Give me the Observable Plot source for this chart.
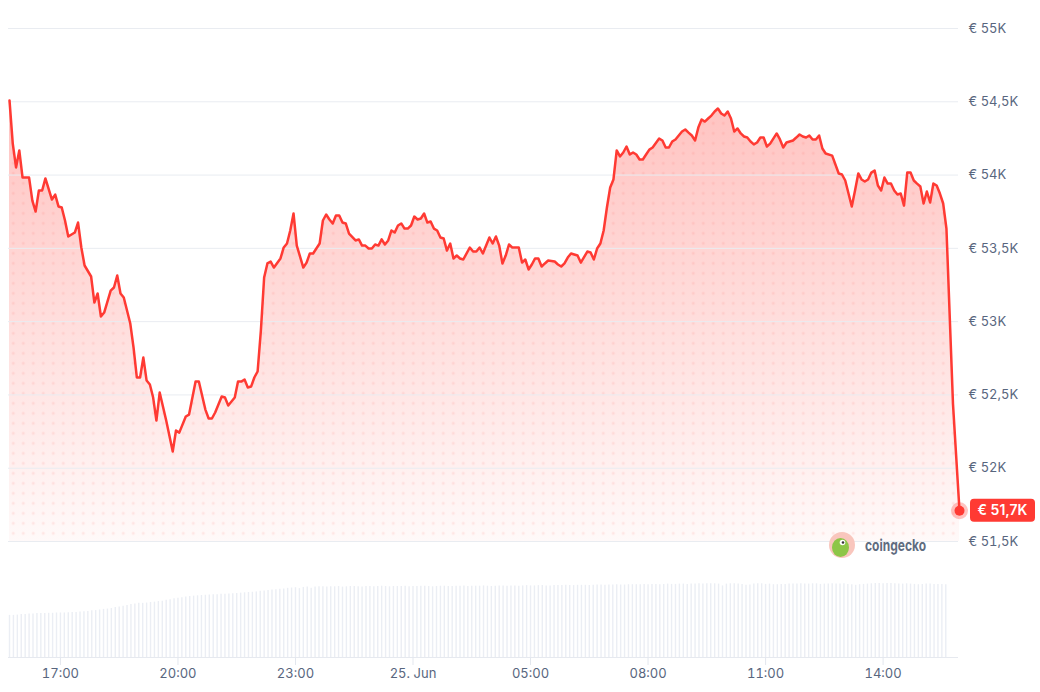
<!DOCTYPE html>
<html><head><meta charset="utf-8">
<script src="https://cdn.jsdelivr.net/npm/d3@7"></script>
<script src="https://cdn.jsdelivr.net/npm/@observablehq/plot@0.6"></script>
<style>
html,body{margin:0;padding:0;background:#fff;}
#wrap{position:relative;width:1040px;height:692px;overflow:hidden;}
#wrap svg{position:absolute;left:0;top:0;}
</style></head><body><div id="wrap"></div>
<script>
// ---- data ----
const START = new Date(2024, 5, 24, 15, 42); // first 5-minute slot
const STEP_MIN = 5;
// [slot (5-minute steps from START), price in EUR]
const pricePoints = [
[0,54509],[1,54215],[2,54052],[3,54168],[4,53983],[6,53983],[7,53826],[8,53751],[9,53895],[10,53895],
[11,53977],[13,53833],[14,53867],[15,53786],[16,53779],[17,53690],[18,53581],[20,53608],[21,53676],[22,53506],
[23,53383],[25,53308],[26,53130],[27,53192],[28,53035],[29,53062],[31,53212],[32,53233],[33,53315],[34,53192],
[35,53165],[37,52987],[38,52823],[39,52619],[40,52619],[41,52755],[42,52598],[43,52571],[44,52482],[45,52325],
[46,52516],[48,52325],[50,52114],[51,52257],[52,52243],[54,52353],[55,52366],[57,52591],[58,52591],[60,52400],
[61,52339],[62,52339],[63,52380],[65,52489],[66,52482],[67,52428],[68,52455],[69,52482],[70,52591],[71,52591],
[72,52605],[73,52551],[74,52557],[75,52619],[76,52660],[77,52939],[78,53301],[79,53397],[80,53410],[81,53369],
[83,53431],[84,53506],[85,53533],[86,53622],[87,53738],[88,53519],[90,53369],[91,53403],[92,53465],[93,53465],
[95,53533],[96,53690],[97,53731],[98,53697],[99,53670],[100,53724],[101,53724],[102,53676],[103,53670],[104,53601],
[106,53554],[107,53561],[108,53519],[109,53519],[110,53499],[111,53499],[112,53526],[113,53519],[114,53561],[115,53526],
[116,53554],[117,53622],[118,53608],[119,53656],[120,53670],[121,53635],[122,53635],[123,53656],[124,53717],[125,53697],
[126,53704],[127,53738],[128,53676],[129,53683],[130,53635],[131,53622],[132,53574],[133,53567],[134,53485],[135,53533],
[136,53431],[137,53451],[138,53431],[139,53424],[141,53506],[142,53478],[143,53478],[144,53506],[145,53465],[147,53574],
[148,53533],[149,53581],[150,53519],[151,53397],[152,53451],[153,53526],[154,53506],[156,53506],[157,53403],[158,53424],
[159,53356],[160,53390],[161,53431],[162,53431],[163,53376],[164,53397],[165,53417],[167,53410],[168,53390],[169,53376],
[170,53397],[171,53437],[172,53465],[173,53458],[174,53451],[175,53403],[177,53478],[178,53472],[179,53424],[180,53499],
[181,53533],[182,53622],[183,53779],[184,53915],[185,53970],[186,54168],[187,54127],[188,54154],[189,54195],[190,54140],
[191,54154],[192,54140],[193,54106],[194,54106],[195,54140],[196,54174],[197,54188],[199,54249],[200,54236],[201,54188],
[202,54188],[203,54229],[204,54243],[205,54270],[206,54297],[207,54311],[208,54290],[209,54270],[210,54236],[211,54324],
[212,54379],[213,54365],[214,54386],[215,54406],[216,54434],[217,54454],[218,54420],[219,54406],[220,54434],[221,54386],
[222,54297],[223,54318],[224,54284],[225,54263],[226,54256],[227,54229],[228,54209],[229,54222],[230,54256],[231,54256],
[232,54195],[233,54215],[235,54284],[236,54243],[237,54188],[238,54222],[240,54236],[241,54256],[242,54277],[243,54263],
[244,54256],[245,54270],[246,54243],[247,54243],[248,54270],[249,54181],[250,54147],[252,54133],[254,54011],[255,54004],
[256,53963],[257,53874],[258,53786],[259,53895],[260,54011],[261,53970],[262,53956],[263,53970],[264,54017],[265,54031],
[266,53929],[267,53895],[268,53983],[269,53942],[270,53942],[271,53895],[272,53867],[273,53874],[274,53792],[275,54017],
[276,54017],[277,53963],[278,53942],[279,53922],[280,53806],[281,53888],[282,53813],[283,53942],[284,53929],[285,53874],
[286,53806],[287,53635],[289,52441],[291,51710]
];
// 24h volume (relative units), one bar every 6 minutes from START
const VOL_STEP_MIN = 6;
const volumes = [
14.0,14.0,14.1,14.3,14.3,14.5,14.5,14.6,14.6,14.6,14.7,14.7,14.8,14.8,14.8,14.9,15.0,15.0,15.1,15.2,
15.3,15.5,15.6,15.8,16.0,16.1,16.3,16.6,16.8,17.0,17.3,17.6,17.8,18.0,18.0,18.1,18.3,18.4,18.6,18.7,
19.0,19.2,19.5,19.7,19.9,20.1,20.3,20.4,20.5,20.6,20.7,20.8,20.9,20.9,21.0,21.0,21.1,21.2,21.3,21.4,
21.5,21.6,21.7,21.8,22.0,22.1,22.3,22.4,22.5,22.7,22.8,23.0,23.1,23.2,22.9,23.3,23.4,23.0,23.4,23.5,
23.5,23.4,23.5,23.5,23.6,23.4,23.5,23.6,23.6,23.5,23.4,23.6,23.6,23.5,23.6,23.7,23.6,23.5,23.6,23.6,
23.6,23.7,23.5,23.6,23.6,23.7,23.7,23.6,23.5,23.6,23.7,23.7,23.6,23.6,23.7,23.7,23.8,23.6,23.7,23.7,
23.7,23.8,23.7,23.6,23.7,23.8,23.8,23.7,23.8,23.8,23.7,23.8,23.9,23.8,23.8,23.9,23.9,23.8,23.8,23.9,
23.9,23.9,24.0,23.9,23.9,24.0,24.0,24.0,23.9,24.0,24.1,24.1,24.0,24.1,24.1,24.2,24.1,24.1,24.2,24.2,
24.2,24.2,24.3,24.2,24.3,24.3,24.2,24.3,24.4,24.3,24.3,24.4,24.4,24.3,24.4,24.4,24.5,24.4,24.5,24.5,
24.5,24.4,23.8,24.4,24.5,24.5,24.4,24.3,24.0,24.1,24.4,24.5,24.5,24.3,24.4,24.2,24.2,24.3,24.3,24.4,
24.4,24.4,24.5,24.4,24.4,24.5,24.5,24.3,24.4,24.4,24.5,24.4,24.4,24.5,24.3,24.2,24.0,24.2,24.3,24.4,
24.5,24.6,24.6,24.5,24.6,24.6,24.5,24.4,24.4,24.5,24.4,24.3,24.2,24.3,24.4,24.4,24.3,24.3,24.3,24.2
];
const xTickTimes = ["2024-06-24 17:00","2024-06-24 20:00","2024-06-24 23:00","2024-06-25 02:00",
                    "2024-06-25 05:00","2024-06-25 08:00","2024-06-25 11:00","2024-06-25 14:00"];
const xTickLabels = ["17:00","20:00","23:00","25. Jun","05:00","08:00","11:00","14:00"];
const yTicks = [51500,52000,52500,53000,53500,54000,54500,55000];
const yLabels = ["€ 51,5K","€ 52K","€ 52,5K","€ 53K","€ 53,5K","€ 54K","€ 54,5K","€ 55K"];
const lastLabel = "€ 51,7K";
const brand = "coingecko";

// ---- build ----
const RED = "#ff3a33";
const parse = d3.timeParse("%Y-%m-%d %H:%M");
const xTicks = xTickTimes.map(parse);
const data = pricePoints.map(([s, p]) => ({t: d3.timeMinute.offset(START, s * STEP_MIN), p}));
const volData = volumes.map((v, j) => ({t: d3.timeMinute.offset(START, j * VOL_STEP_MIN), v}));
const last = data[data.length - 1];
const xDomain = [START, last.t];
const baseP = yTicks[0];
const fmtX = d => xTickLabels[xTicks.findIndex(t => +t === +d)];
const fmtY = d => yLabels[yTicks.indexOf(d)];
const style = {fontFamily: "Inter, 'Noto Sans', sans-serif", fontSize: "13px", background: "transparent", color: "#58667e", overflow: "visible"};

const volChart = Plot.plot({
  width: 1040, height: 692, marginLeft: 8, marginRight: 82, marginTop: 0, marginBottom: 35,
  x: {type: "time", domain: xDomain, range: [9, 959]},
  y: {domain: [0, 24.6], range: [657, 583], axis: null},
  style,
  marks: [
    Plot.ruleX(volData, {x: "t", y1: d => 0, y2: "v", stroke: "#ebeef4", strokeWidth: 1.4}),
    Plot.ruleY([0], {stroke: "#e6e9ef"}),
    Plot.axisX({ticks: xTicks, tickFormat: fmtX, tickSize: 8, tickPadding: 3, stroke: "#e3e7ee", fill: "#58667e", label: null})
  ]
});

const chart = Plot.plot({
  width: 1040, height: 692, marginLeft: 8, marginRight: 82, marginTop: 0, marginBottom: 35,
  x: {type: "time", domain: xDomain, range: [9, 959], axis: null},
  y: {domain: [51500, 55000], range: [541, 28], axis: null},
  style,
  marks: [
    Plot.areaY(data, {x: "t", y1: d => baseP, y2: "p", fill: "url(#priceGrad)"}),
    Plot.areaY(data, {x: "t", y1: d => baseP, y2: "p", fill: "url(#priceDots)"}),
    Plot.gridY({ticks: yTicks, stroke: "#e9ecf1", strokeOpacity: 1}),
    Plot.axisY({ticks: yTicks, anchor: "right", tickSize: 0, tickPadding: 10, tickFormat: fmtY, fill: "#58667e", label: null}),
    Plot.line(data, {x: "t", y: "p", stroke: RED, strokeWidth: 2.5, strokeLinejoin: "round"}),
    Plot.dot([last], {x: "t", y: "p", r: 8.5, fill: RED, fillOpacity: 0.3, stroke: "none"}),
    Plot.dot([last], {x: "t", y: "p", r: 5, fill: RED, stroke: "none"})
  ]
});

const wrap = document.getElementById("wrap");
wrap.appendChild(volChart);
wrap.appendChild(chart);

const xs = chart.scale("x"), ys = chart.scale("y");
const svg = d3.select(chart);
const defs = svg.insert("defs", ":first-child");
const grad = defs.append("linearGradient").attr("id", "priceGrad")
  .attr("gradientUnits", "userSpaceOnUse").attr("x1", 0).attr("x2", 0)
  .attr("y1", ys.apply(54450)).attr("y2", ys.apply(baseP));
grad.append("stop").attr("offset", 0).attr("stop-color", RED).attr("stop-opacity", 0.30);
grad.append("stop").attr("offset", 0.6).attr("stop-color", RED).attr("stop-opacity", 0.14);
grad.append("stop").attr("offset", 1).attr("stop-color", RED).attr("stop-opacity", 0.03);
const pat = defs.append("pattern").attr("id", "priceDots").attr("patternUnits", "userSpaceOnUse")
  .attr("width", 10).attr("height", 10).attr("x", -1.7).attr("y", -1.7);
pat.append("circle").attr("cx", 5).attr("cy", 5).attr("r", 1.5).attr("fill", RED).attr("fill-opacity", 0.1);

// last price label
const lx = xs.apply(last.t), ly = ys.apply(last.p);
const lab = svg.append("g");
lab.append("rect").attr("x", lx + 11).attr("y", ly - 11.5).attr("width", 65).attr("height", 23).attr("rx", 4).attr("fill", RED);
lab.append("text").attr("x", lx + 43.5).attr("y", ly).attr("text-anchor", "middle").attr("dy", "0.35em")
  .attr("fill", "#fff").attr("font-size", 14).attr("font-weight", 600).text(lastLabel);

// brand mark
const bx = lx - 117, by = ys.apply(baseP) + 4;
const logo = svg.append("g").attr("text-anchor", "start");
logo.append("circle").attr("cx", bx).attr("cy", by).attr("r", 13).attr("fill", "#f9c6bd");
logo.append("ellipse").attr("cx", bx - 1.5).attr("cy", by + 2.5).attr("rx", 8.5).attr("ry", 9.5).attr("fill", "#8dc647");
logo.append("circle").attr("cx", bx + 0.5).attr("cy", by - 2.5).attr("r", 2.8).attr("fill", "#fff");
logo.append("circle").attr("cx", bx + 1).attr("cy", by - 2.5).attr("r", 1.3).attr("fill", "#333");
logo.append("text").attr("x", bx + 23).attr("y", by).attr("dy", "0.35em").attr("font-size", 16).attr("font-weight", 700)
  .attr("text-anchor", "start").attr("fill", "#5f6c80").attr("textLength", 61).attr("lengthAdjust", "spacingAndGlyphs").text(brand);
</script></body></html>
